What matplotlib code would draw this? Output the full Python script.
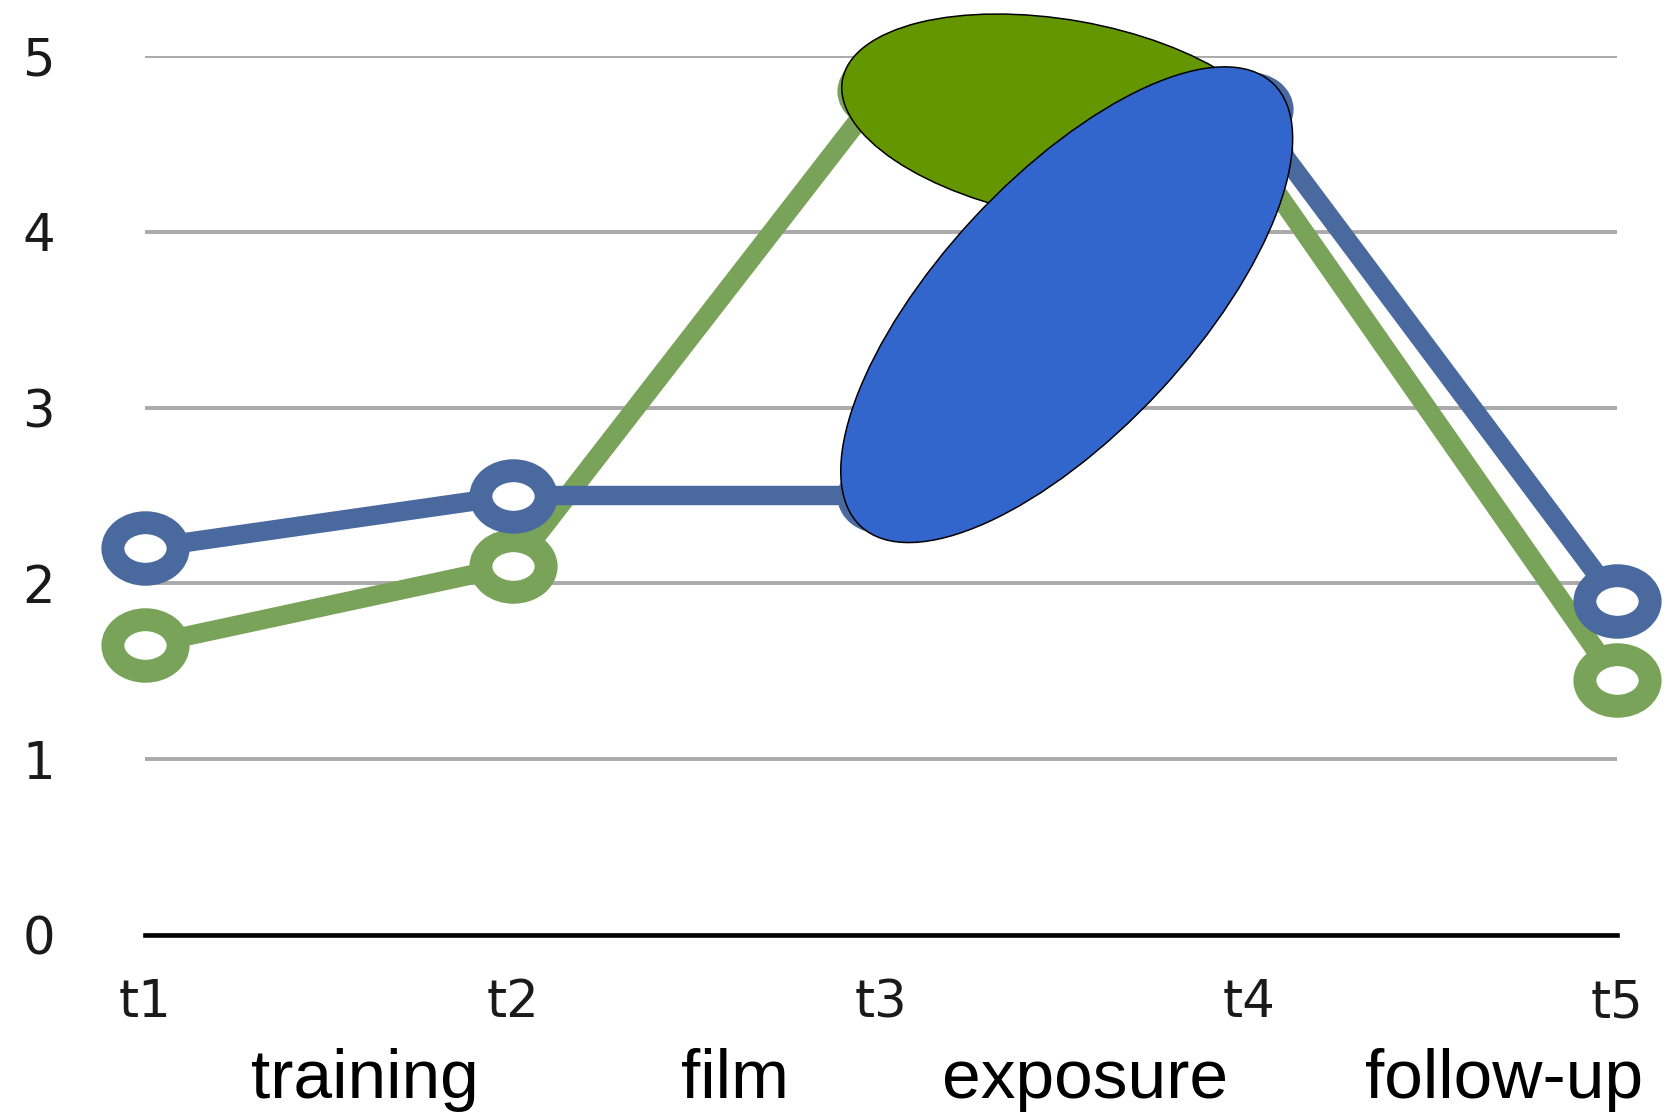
import matplotlib
matplotlib.use('Agg')
import matplotlib.pyplot as plt
import numpy as np
from matplotlib.path import Path
from matplotlib.patches import Ellipse

# measurement points and the two series
time_points = ['t1', 't2', 't3', 't4', 't5']
blue_values = [2.2, 2.5, 2.5, 4.7, 1.9]
green_values = [1.65, 2.1, 4.8, 4.45, 1.45]
y_ticks = [0, 1, 2, 3, 4, 5]
phases = ['training', 'film', 'exposure', 'follow-up']

W, H = 1668, 1117
blue = '#4a6a9f'
green = '#7aa35a'

fig = plt.figure(figsize=(W / 100, H / 100), dpi=100)
ax = fig.add_axes([145.4 / W, 182 / H, (1616.7 - 145.4) / W, 879 / H])

# slightly flattened open ring used as marker
circle = Path.unit_circle()
ring = Path(circle.vertices * [1, 0.79], circle.codes)

x = np.arange(len(time_points))
ax.plot(x, green_values, color=green, lw=14, marker=ring, ms=47, mew=16.5,
        mfc='white', mec=green, clip_on=False, zorder=3)
ax.plot(x, blue_values, color=blue, lw=14, marker=ring, ms=47, mew=16.5,
        mfc='white', mec=blue, clip_on=False, zorder=4)

ax.set_xlim(0, len(time_points) - 1)
ax.set_ylim(0, 5)
ax.set_yticks(y_ticks)
ax.set_xticks(x, time_points)
ax.yaxis.grid(True, color='#aaaaaa', lw=2.8)
ax.set_axisbelow(True)
for side in ['top', 'right', 'left']:
    ax.spines[side].set_visible(False)
ax.spines['bottom'].set_color('black')
ax.spines['bottom'].set_linewidth(3.3)
ax.spines['bottom'].set_zorder(2)

ax.tick_params(length=0, labelsize=37, colors='#1a1a1a')
ax.tick_params(axis='y', pad=77)
ax.tick_params(axis='x', pad=31)
for lbl in ax.get_yticklabels():
    lbl.set_horizontalalignment('center')

# phase names under the time axis
phase_x = [364.5, 735, 1085, 1504]
for name, px in zip(phases, phase_x):
    fig.text(px / W, 19 / H, name, fontsize=50, family='Liberation Sans',
             ha='center', va='baseline', color='black')

# two shapes laid over the chart
over = fig.add_axes([0, 0, 1, 1])
over.set_xlim(0, W)
over.set_ylim(0, H)
over.axis('off')
over.add_patch(Ellipse((1063, H - 119), 448, 198, angle=-10,
                       fc='#639600', ec='black', lw=1.1))
over.add_patch(Ellipse((1066.7, H - 304.7), 605, 254, angle=47.1,
                       fc='#3366cc', ec='black', lw=1.1))

fig.savefig('out.png', dpi=100)
